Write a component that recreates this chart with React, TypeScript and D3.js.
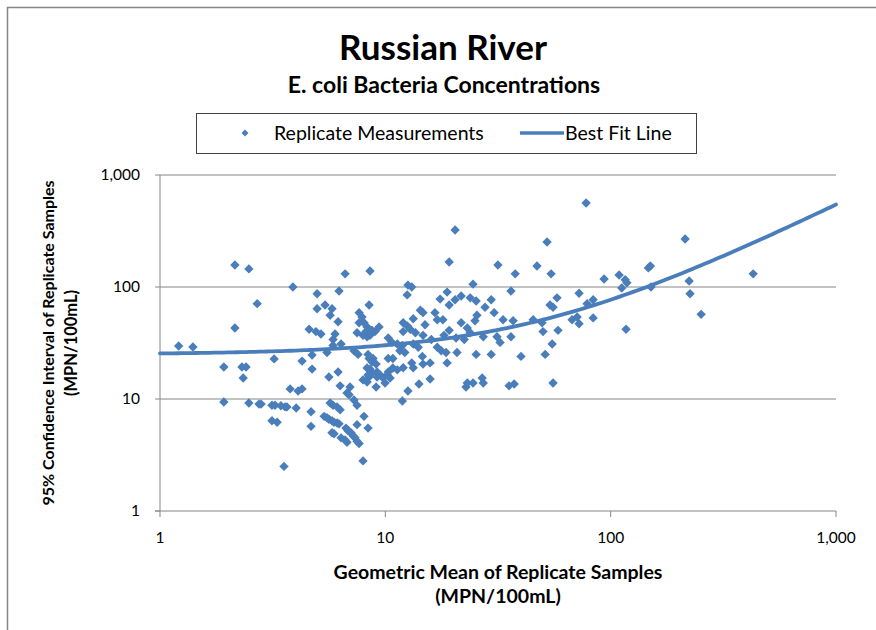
import React from "react";
import * as d3 from "d3";

// Geometric mean of replicate samples (MPN/100mL)
const geoMean: number[] = [
  1.21, 1.40, 1.92, 2.31, 2.41, 2.34, 1.92, 2.48, 2.75, 2.81, 3.14, 3.24, 3.44, 3.59, 3.66, 4.02,
  3.14, 3.31, 3.55, 3.78, 4.10, 4.27, 4.27, 4.73, 4.73, 4.68, 4.68, 3.21, 2.15, 2.48, 2.15, 2.70,
  3.89, 4.98, 4.98, 5.40, 5.80, 5.69, 6.23, 6.63, 6.17, 4.59, 4.92, 5.18, 5.98, 5.86, 6.36, 5.51,
  5.86, 5.62, 6.17, 6.30, 6.97, 6.76, 6.90, 7.26, 7.49, 7.96, 8.30, 8.47, 8.30, 5.69, 5.86, 6.11,
  6.30, 5.35, 5.51, 5.62, 5.80, 5.92, 6.11, 6.23, 5.80, 5.92, 6.36, 6.63, 6.76, 6.69, 6.83, 7.04,
  7.19, 7.34, 7.49, 7.65, 7.49, 8.04, 8.38, 7.96, 7.65, 7.88, 7.65, 8.04, 8.30, 8.21, 7.49, 7.96,
  8.30, 8.55, 7.57, 7.26, 8.55, 8.47, 8.47, 8.73, 9.10, 8.55, 8.73, 9.19, 9.10, 8.73, 9.00, 9.38,
  12.6, 13.1, 12.5, 14.3, 14.7, 13.3, 12.0, 12.5, 12.9, 12.0, 13.6, 15.0, 16.6, 17.0, 18.0, 17.5,
  18.8, 19.2, 20.4, 21.7, 21.7, 23.1, 19.2, 18.2, 16.0, 14.7, 20.6, 10.3, 10.7, 11.3, 11.9, 13.3,
  14.0, 11.6, 12.2, 17.0, 17.7, 18.6, 20.8, 8.38, 8.82, 10.3, 10.8, 13.1, 14.6, 15.8, 12.0, 13.3,
  14.7, 20.4, 19.2, 9.19, 9.48, 9.77, 10.2, 10.5, 10.8, 11.3, 10.3, 8.38, 9.97, 12.6, 14.1, 15.8,
  18.8, 11.9, 22.8, 23.1, 22.4, 23.8, 27.2, 31.3, 32.3, 36.1, 50.1, 55.0, 51.2, 25.3, 29.5, 40.0,
  24.5, 26.9, 27.2, 35.4, 37.3, 55.5, 77.8, 52.2, 31.6, 47.1, 37.7, 54.4, 24.5, 36.1, 23.8, 25.3,
  29.5, 27.7, 30.4, 57.8, 53.8, 55.5, 72.4, 83.6, 78.6, 25.5, 25.0, 33.3, 36.9, 45.3, 49.6, 58.4,
  67.4, 72.4, 71.0, 83.6, 214, 150, 147, 93.5, 109, 112, 116, 118, 151, 223, 225, 252, 429, 117,
];

// 95% confidence interval of replicate samples (MPN/100mL)
const confInterval: number[] = [
  29.7, 29.1, 19.3, 19.3, 19.3, 15.4, 9.4, 9.2, 9.0, 9.0, 8.8, 8.8, 8.7, 8.5, 8.5, 8.3,
  6.4, 6.2, 2.5, 12.3, 11.8, 12.3, 21.8, 24.7, 18.5, 7.7, 5.7, 22.8, 157, 145, 43, 71,
  100, 87, 64, 69, 64, 56, 92, 131, 49, 42, 40, 38, 38, 34, 31, 26,
  30, 15.7, 17.4, 13.1, 12.8, 11.3, 10.9, 9.8, 8.8, 14.8, 14.2, 15.7, 18.9, 9.2, 8.8, 8.5,
  8.0, 7.0, 6.8, 6.6, 6.4, 6.2, 6.1, 6.0, 5.0, 4.9, 4.5, 4.3, 4.1, 5.5, 5.2, 5.0,
  4.7, 4.5, 4.2, 4.0, 5.9, 7.0, 5.5, 2.8, 59, 54, 48, 48, 44, 40, 39, 37,
  36, 37, 25, 27, 139, 69, 23, 21.4, 20.5, 18.5, 17.1, 15.7, 12.8, 41, 40, 44,
  104, 100, 85, 62, 59, 52, 48, 45, 42, 40, 39, 46, 59, 51, 51, 78,
  90, 69, 77, 83, 48, 43, 41, 37, 34, 37, 35, 35, 32, 31, 30, 31,
  29, 27, 26, 29, 27, 26, 26, 25, 23, 23, 23, 21, 24, 21, 19, 19,
  20.5, 323, 167, 17.4, 16.4, 15.4, 16.4, 15.4, 18.9, 18.2, 17.4, 16.4, 13.9, 11.8, 13.6, 15.1,
  21, 9.6, 12.8, 13.9, 34, 39, 36, 36, 32, 36, 40, 31, 25, 25, 25, 24,
  13.9, 15.4, 13.9, 13.1, 13.6, 13.9, 562, 252, 157, 154, 131, 131, 106, 92, 80, 75,
  77, 66, 59, 80, 69, 66, 88, 77, 71, 56, 50, 51, 50, 51, 48, 41,
  51, 47, 54, 53, 268, 154, 148, 118, 128, 98, 116, 109, 100, 113, 87, 57, 131, 42,
];

const tickValues: number[] = [1, 10, 100, 1000];
const tickLabels: string[] = ["1", "10", "100", "1,000"];

const titleText = "Russian River";
const subtitleText = "E. coli Bacteria Concentrations";
const seriesNames: string[] = ["Replicate Measurements", "Best Fit Line"];
const xTitle: string[] = ["Geometric Mean of Replicate Samples", "(MPN/100mL)"];
const yTitle: string[] = ["95% Confidence Interval of Replicate Samples", "(MPN/100mL)"];

// Best fit line: CI = intercept + slope * GM
const fitIntercept = 25;
const fitSlope = 0.52;

const W = 876;
const H = 630;
const plot = { left: 160, right: 836, top: 175, bottom: 511 };
const BLUE = "#4A7EBB";
const GRID = "#868686";
const FONT = "Lato, 'Open Sans', sans-serif";

export default function App() {
  const x = d3.scaleLog().domain([1, 1000]).range([plot.left, plot.right]);
  const y = d3.scaleLog().domain([1, 1000]).range([plot.bottom, plot.top]);

  const points = geoMean.map((g, i) => ({ g, c: confInterval[i] }));
  const diamond = d3.symbol(d3.symbolSquare, 44)()!;
  const legendDiamond = d3.symbol(d3.symbolSquare, 24)()!;

  const fitXs = d3.range(0, 3.0001, 0.02).map((e) => Math.pow(10, e));
  const fitLine = d3
    .line<number>()
    .x((v) => x(v))
    .y((v) => y(fitIntercept + fitSlope * v))
    .curve(d3.curveMonotoneX)(fitXs)!;

  const cx = (plot.left + plot.right) / 2;
  const cy = (plot.top + plot.bottom) / 2;

  return (
    <svg
      width={W}
      height={H}
      style={{ position: "absolute", left: 0, top: 0, display: "block", background: "#fff" }}
      fontFamily={FONT}
    >
      <rect x={7.5} y={7.5} width={W + 20} height={H + 20} fill="#fff" stroke={GRID} strokeWidth={1.5} />

      <text x={443} y={60} textAnchor="middle" fontSize={35} fontWeight="bold" fill="#000">
        {titleText}
      </text>
      <text x={444} y={93} textAnchor="middle" fontSize={23} fontWeight="bold" fill="#000">
        {subtitleText}
      </text>

      {/* legend */}
      <rect x={196.5} y={113.5} width={500} height={40} fill="#fff" stroke="#404040" strokeWidth={1} />
      <path d={legendDiamond} transform="translate(245,133) rotate(45)" fill={BLUE} />
      <text x={274} y={140} fontSize={19.5} fill="#000">
        {seriesNames[0]}
      </text>
      <line x1={520} x2={564} y1={133} y2={133} stroke={BLUE} strokeWidth={3.5} />
      <text x={565} y={140} fontSize={19.5} fill="#000">
        {seriesNames[1]}
      </text>

      {/* gridlines */}
      {tickValues.slice(1).map((t) => (
        <line key={"g" + t} x1={plot.left} x2={plot.right} y1={y(t)} y2={y(t)} stroke={GRID} strokeWidth={1} />
      ))}
      {/* axes */}
      <line x1={plot.left} x2={plot.left} y1={plot.top} y2={plot.bottom} stroke={GRID} strokeWidth={1} />
      <line x1={plot.left - 5} x2={plot.right} y1={plot.bottom} y2={plot.bottom} stroke={GRID} strokeWidth={1} />
      {tickValues.map((t) => (
        <line key={"yt" + t} x1={plot.left - 5} x2={plot.left} y1={y(t)} y2={y(t)} stroke={GRID} />
      ))}
      {tickValues.map((t) => (
        <line key={"xt" + t} x1={x(t)} x2={x(t)} y1={plot.bottom} y2={plot.bottom + 6} stroke={GRID} />
      ))}

      {tickValues.map((t, i) => (
        <text key={"yl" + t} x={140} y={y(t) + 5} textAnchor="end" fontSize={15.5} fill="#000">
          {tickLabels[i]}
        </text>
      ))}
      {tickValues.map((t, i) => (
        <text key={"xl" + t} x={x(t)} y={543} textAnchor="middle" fontSize={15.5} fill="#000">
          {tickLabels[i]}
        </text>
      ))}

      <text x={cx} y={579} textAnchor="middle" fontSize={19.5} fontWeight="bold" fill="#000">
        {xTitle[0]}
      </text>
      <text x={cx} y={603} textAnchor="middle" fontSize={19.5} fontWeight="bold" fill="#000">
        {xTitle[1]}
      </text>
      <g transform={`translate(54,${cy}) rotate(-90)`}>
        <text x={0} y={0} textAnchor="middle" fontSize={16} fontWeight="bold" fill="#000">
          {yTitle[0]}
        </text>
        <text x={0} y={23} textAnchor="middle" fontSize={16.5} fontWeight="bold" fill="#000">
          {yTitle[1]}
        </text>
      </g>

      {/* points */}
      {points.map((p, i) => (
        <path
          key={"p" + i}
          d={diamond}
          transform={`translate(${x(p.g)},${y(p.c)}) rotate(45)`}
          fill={BLUE}
        />
      ))}

      {/* fit line */}
      <path d={fitLine} fill="none" stroke={BLUE} strokeWidth={3.8} strokeLinecap="round" />
    </svg>
  );
}
